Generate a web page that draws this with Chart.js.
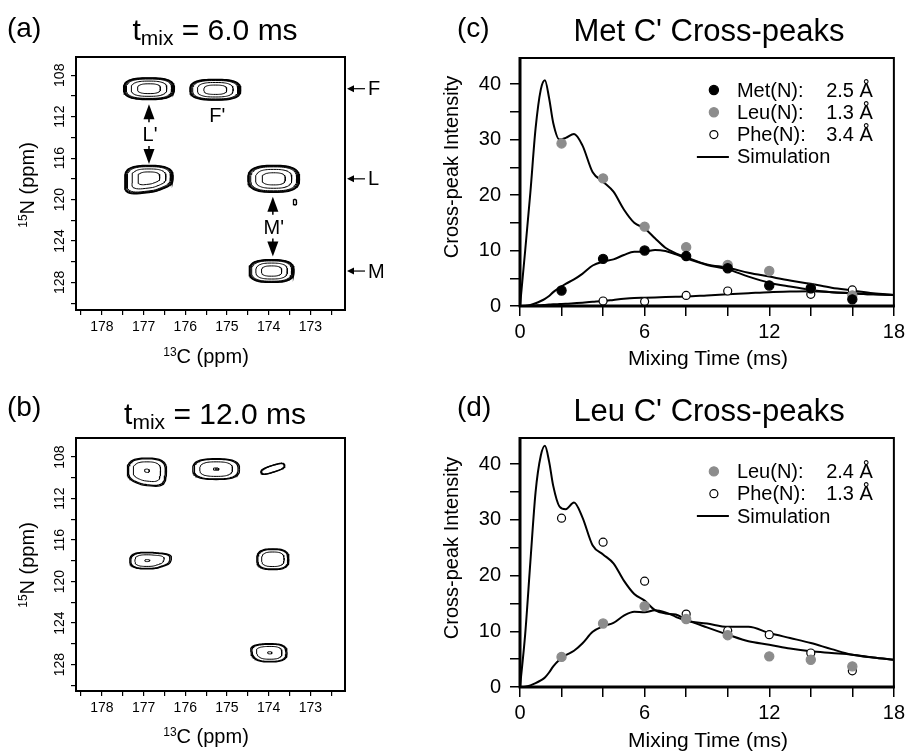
<!DOCTYPE html>
<html>
<head>
<meta charset="utf-8">
<title>Met / Leu C' cross-peaks</title>
<script src="https://cdn.jsdelivr.net/npm/chart.js@4.4.1/dist/chart.umd.min.js"></script>
<style>
  body { margin: 0; background: #fff; }
  #fig { position: relative; width: 909px; height: 751px; overflow: hidden;
         font-family: 'Liberation Sans', Arial, Helvetica, sans-serif; color: #000; }
  #fig canvas { position: absolute; }
  .t { position: absolute; line-height: 1; white-space: nowrap; }
  .c { transform: translateX(-50%); }
  .r { transform: translate(-50%, -50%) rotate(-90deg); }
  .t sup { font-size: 0.6em; vertical-align: 0.62em; line-height: 0; }
  .t sub { font-size: 0.7em; vertical-align: -0.25em; line-height: 0; }
</style>
</head>
<body>
<div id="fig">
  <canvas id="specA" width="450" height="370" style="left:0;top:0"></canvas>
  <canvas id="buildC" width="459" height="370" style="left:450px;top:0"></canvas>
  <canvas id="specB" width="450" height="381" style="left:0;top:370px"></canvas>
  <canvas id="buildD" width="459" height="381" style="left:450px;top:370px"></canvas>

  <div class="t" style="left:7px;top:14px;font-size:28px">(a)</div>
  <div class="t c" style="left:215px;top:15px;font-size:30px">t<sub>mix</sub> = 6.0 ms</div>
  <div class="t c" style="left:206px;top:346px;font-size:20px"><sup>13</sup>C (ppm)</div>
  <div class="t r" style="left:27px;top:185px;font-size:20px"><sup>15</sup>N (ppm)</div>

  <div class="t" style="left:7px;top:393px;font-size:28px">(b)</div>
  <div class="t c" style="left:215px;top:399px;font-size:30px">t<sub>mix</sub> = 12.0 ms</div>
  <div class="t c" style="left:206px;top:726px;font-size:20px"><sup>13</sup>C (ppm)</div>
  <div class="t r" style="left:27px;top:565px;font-size:20px"><sup>15</sup>N (ppm)</div>

  <div class="t" style="left:457px;top:14px;font-size:28px">(c)</div>
  <div class="t c" style="left:709px;top:15px;font-size:31px">Met C' Cross-peaks</div>
  <div class="t c" style="left:708px;top:347px;font-size:21px">Mixing Time (ms)</div>
  <div class="t r" style="left:451px;top:167px;font-size:20px">Cross-peak Intensity</div>

  <div class="t" style="left:457px;top:393px;font-size:28px">(d)</div>
  <div class="t c" style="left:709px;top:395px;font-size:31px">Leu C' Cross-peaks</div>
  <div class="t c" style="left:708px;top:729px;font-size:21px">Mixing Time (ms)</div>
  <div class="t r" style="left:451px;top:548px;font-size:20px">Cross-peak Intensity</div>
</div>

<script>
const FONT = "'Liberation Sans', Arial, Helvetica, sans-serif";
Chart.defaults.font.family = FONT;
Chart.defaults.color = '#000';
Chart.defaults.animation = false;
Chart.defaults.plugins.legend.display = false;
Chart.defaults.plugins.tooltip.enabled = false;

// ---------- 2D 13C-15N spectra ----------
// ppm window of both spectra
const cRange = [172.17, 178.62];
const nRangeA = [106.24, 130.66];
const nRangeB = [106.16, 130.55];

// tmix = 6.0 ms : peak centres, half widths (ppm), number of contour levels
const peaksA_C    = [176.87, 175.28, 176.87, 173.88, 173.93, 173.37];
const peaksA_N    = [109.3, 109.4, 117.85, 118.0, 126.9, 120.25];
const peaksA_wC   = [0.61, 0.61, 0.58, 0.62, 0.54, 0.04];
const peaksA_wN   = [1.05, 1.0, 1.15, 1.3, 1.1, 0.26];
const peaksA_nLev = [6, 6, 6, 6, 6, 1];
const peaksA_lobeDir = [0, 0, 112, 0, 0, 0];
const peaksA_lobeAmt = [0, 0, 0.45, 0, 0, 0];
const peaksA_tilt = [0, 0, 0, 0, 0, 0];
const levelsA = [1.0, 0.97, 0.93, 0.89, 0.7, 0.45];

// tmix = 12.0 ms
const peaksB_C    = [176.92, 175.26, 173.9, 176.92, 173.9, 173.97];
const peaksB_N    = [109.3, 109.16, 109.13, 117.98, 117.85, 126.87];
const peaksB_wC   = [0.47, 0.56, 0.3, 0.41, 0.385, 0.41];
const peaksB_wN   = [1.2, 1.0, 0.33, 0.8, 1.0, 0.88];
const peaksB_nLev = [4, 5, 2, 4, 3, 4];
const peaksB_lobeDir = [70, 0, 0, -10, 0, 200];
const peaksB_lobeAmt = [0.3, 0, 0, 0.45, 0, 0.15];
const peaksB_tilt = [0, 0, -18, 0, 0, 0];
const levelsB = [1.0, 0.94, 0.7, 0.12, 0.05];

// annotations of panel (a)
const arrowsA_C = [176.87, 173.9];
const arrowsA_top = [110.79, 119.73];
const arrowsA_bottom = [116.56, 125.5];
const arrowsA_text = ["L'", "M'"];
const arrowsA_textN = [113.77, 122.8];
const labelsA_text = ["F'"];
const labelsA_C = [175.23];
const labelsA_N = [112.0];
const rowsA_text = ['F', 'L', 'M'];
const rowsA_N = [109.3, 118.0, 126.9];

// ---------- cross-peak build-up curves ----------
const tMax = 18;
const yMax = 44.7;
const mixTime = [2, 4, 6, 8, 10, 12, 14, 16];
const metC_exp = [2.8, 8.5, 10.0, 9.0, 6.8, 3.7, 3.2, 1.2];
const leuC_exp = [29.3, 23.0, 14.3, 10.6, 7.4, 6.3, 3.2, 1.9];
const pheC_exp = [null, 0.9, 0.8, 1.9, 2.7, null, 2.1, 2.9];
const leuD_exp = [5.4, 11.4, 14.5, 12.2, 9.3, 5.5, 4.9, 3.7];
const pheD_exp = [30.3, 26.0, 19.0, 13.1, 10.1, 9.4, 6.1, 2.9];

const simTime = [0, 0.25, 0.5, 0.75, 1.0, 1.2, 1.4, 1.6, 1.9, 2.2, 2.6, 3.0, 3.5, 4.0, 4.5, 5.0,
                 5.5, 6.0, 6.5, 7.0, 7.5, 8, 9, 10, 11, 12, 13, 14, 15, 16, 17, 18];
const metC_sim = [0, 0.05, 0.2, 0.5, 0.9, 1.3, 1.8, 2.5, 3.3, 4.0, 4.8, 5.8, 7.3, 8.0, 8.4, 9.2,
                  9.8, 9.8, 10.1, 9.9, 9.3, 8.6, 7.4, 6.6, 5.3, 4.2, 3.5, 2.9, 2.5, 2.3, 2.1, 2.0];
const leuC_sim = [0, 10, 20.5, 32, 39, 40.7, 37.5, 33, 30, 30.3, 31.0, 29.0, 24.1, 22.4, 20.6, 17.4,
                  15.0, 14.0, 12.2, 10.5, 9.5, 8.8, 7.5, 6.9, 6.0, 5.3, 4.6, 4.0, 3.3, 2.8, 2.3, 2.0];
const pheC_sim = [0, 0, 0.05, 0.1, 0.15, 0.2, 0.25, 0.3, 0.35, 0.4, 0.5, 0.6, 0.75, 0.9, 1.1, 1.3,
                  1.45, 1.5, 1.55, 1.6, 1.65, 1.7, 1.9, 2.1, 2.3, 2.5, 2.6, 2.65, 2.5, 2.3, 2.1, 2.0];
const leuD_sim = [0, 0.05, 0.3, 0.7, 1.2, 1.7, 2.6, 3.7, 4.9, 5.7, 6.5, 7.8, 9.9, 10.9, 11.5, 12.8,
                  13.5, 13.4, 13.8, 13.4, 12.6, 11.9, 11.4, 10.8, 10.8, 9.7, 8.8, 7.9, 6.8, 5.8, 5.3, 4.9];
const pheD_sim = [0, 9.5, 22.5, 35, 41.5, 43.3, 40.5, 36.1, 32.4, 31.9, 33.1, 30.5, 25.4, 23.8, 22.2, 19.1,
                  16.7, 15.5, 13.8, 13.2, 13.0, 12.1, 10.7, 9.4, 8.2, 7.6, 6.9, 6.4, 6.1, 5.8, 5.3, 4.9];

const legendC_names = ['Met(N):', 'Leu(N):', 'Phe(N):'];
const legendC_dist = ['2.5 Å', '1.3 Å', '3.4 Å'];
const legendD_names = ['Leu(N):', 'Phe(N):'];
const legendD_dist = ['2.4 Å', '1.3 Å'];

const GRAY = '#8c8c8c';

// 13C ppm spans about 4x the pixels of 15N ppm on the spectra
const ASPECT = 4;

// one closed contour line around a peak (rounded, optionally lobed and tilted)
function contourRing(c, n, wC, wN, s, lobeDir, lobeAmt, tilt) {
  const pts = [];
  const HX = wC * ASPECT, HY = wN, p = 2.8;
  const ld = lobeDir * Math.PI / 180, ta = tilt * Math.PI / 180;
  for (let i = 0; i <= 80; i++) {
    const t = i / 80 * 2 * Math.PI;
    const ct = Math.cos(t), st = Math.sin(t);
    let X = HX * s * Math.sign(ct) * Math.pow(Math.abs(ct), 2 / p);
    let Y = HY * s * Math.sign(st) * Math.pow(Math.abs(st), 2 / p);
    const f = 1 + lobeAmt * Math.pow(Math.max(0, Math.cos(t - ld)), 6);
    X *= f; Y *= f;
    const Xr = X * Math.cos(ta) - Y * Math.sin(ta);
    const Yr = X * Math.sin(ta) + Y * Math.cos(ta);
    pts.push({ x: c - Xr / ASPECT, y: n + Yr });
  }
  return pts;
}

function contourDatasets(C, N, wC, wN, nLev, lobeDir, lobeAmt, tilt, levels) {
  const sets = [];
  C.forEach((c, i) => {
    for (let k = 0; k < nLev[i]; k++) {
      sets.push({
        data: contourRing(c, N[i], wC[i], wN[i], levels[k], lobeDir[i], lobeAmt[i], tilt[i]),
        showLine: true, borderColor: '#000', borderWidth: k < 2 ? 1.3 : 1,
        pointRadius: 0, fill: false, tension: 0
      });
    }
  });
  return sets;
}

// box around the plot area
const frame = {
  id: 'frame',
  afterDraw(chart, args, opts) {
    const { ctx, chartArea: a } = chart;
    ctx.save();
    ctx.strokeStyle = '#000';
    ctx.lineWidth = opts.width;
    ctx.strokeRect(a.left, a.top, a.right - a.left, a.bottom - a.top);
    if (opts.axisWidth) {
      ctx.lineWidth = opts.axisWidth;
      ctx.beginPath();
      ctx.moveTo(a.left, a.top - 1);
      ctx.lineTo(a.left, a.bottom);
      ctx.lineTo(a.right + 1, a.bottom);
      ctx.stroke();
    }
    ctx.restore();
  }
};

function arrowHead(ctx, x, yTip, dir, len, half) {
  ctx.beginPath();
  ctx.moveTo(x, yTip);
  ctx.lineTo(x - half, yTip - dir * len);
  ctx.lineTo(x + half, yTip - dir * len);
  ctx.closePath();
  ctx.fill();
}

// rotated 15N labels, assignment arrows and row markers
const spectrumMarks = {
  id: 'spectrumMarks',
  afterDraw(chart, args, opts) {
    const { ctx, chartArea: a, scales: { x, y } } = chart;
    ctx.save();
    ctx.fillStyle = '#000';
    ctx.strokeStyle = '#000';
    ctx.font = `14px ${FONT}`;
    ctx.textAlign = 'center';
    ctx.textBaseline = 'middle';
    y.ticks.forEach(t => {
      if (t.value % 4 !== 0) return;
      ctx.save();
      ctx.translate(a.left - 16, y.getPixelForValue(t.value));
      ctx.rotate(-Math.PI / 2);
      ctx.fillText(String(t.value), 0, 0);
      ctx.restore();
    });

    ctx.font = `20px ${FONT}`;
    ctx.lineWidth = 1.5;
    (opts.arrowC || []).forEach((c, i) => {
      const px = x.getPixelForValue(c);
      const yTop = y.getPixelForValue(opts.arrowTop[i]);
      const yBot = y.getPixelForValue(opts.arrowBottom[i]);
      arrowHead(ctx, px, yTop, -1, 15, 5.5);
      arrowHead(ctx, px, yBot, 1, 15, 5.5);
      ctx.beginPath();
      ctx.moveTo(px, yTop + 14); ctx.lineTo(px, yTop + 18);
      ctx.moveTo(px, yBot - 18); ctx.lineTo(px, yBot - 14);
      ctx.stroke();
      ctx.fillText(opts.arrowText[i], px + 1, y.getPixelForValue(opts.arrowTextN[i]));
    });
    (opts.labelText || []).forEach((s, i) => {
      ctx.fillText(s, x.getPixelForValue(opts.labelC[i]), y.getPixelForValue(opts.labelN[i]));
    });
    ctx.textAlign = 'left';
    (opts.rowText || []).forEach((s, i) => {
      const py = y.getPixelForValue(opts.rowN[i]);
      ctx.lineWidth = 1.2;
      ctx.beginPath();
      ctx.moveTo(a.right + 6, py); ctx.lineTo(a.right + 20, py);
      ctx.stroke();
      ctx.beginPath();
      ctx.moveTo(a.right + 2, py); ctx.lineTo(a.right + 9, py - 3.5); ctx.lineTo(a.right + 9, py + 3.5);
      ctx.closePath(); ctx.fill();
      ctx.fillText(s, a.right + 23, py + 1);
    });
    ctx.restore();
  }
};

// legend drawn inside the plot area
const insetLegend = {
  id: 'insetLegend',
  afterDatasetsDraw(chart, args, opts) {
    const { ctx, chartArea: a } = chart;
    let y = a.top + opts.top;
    ctx.save();
    ctx.font = `20px ${FONT}`;
    ctx.textBaseline = 'middle';
    chart.data.datasets.forEach(ds => {
      if (!ds.label) return;
      if (ds.showLine) {
        ctx.strokeStyle = ds.borderColor;
        ctx.lineWidth = ds.borderWidth;
        ctx.beginPath();
        ctx.moveTo(a.right - 197, y); ctx.lineTo(a.right - 165, y);
        ctx.stroke();
      } else {
        ctx.beginPath();
        ctx.arc(a.right - 180, y, ds.pointRadius, 0, 2 * Math.PI);
        ctx.fillStyle = ds.pointBackgroundColor;
        ctx.fill();
        ctx.lineWidth = ds.pointBorderWidth;
        ctx.strokeStyle = ds.pointBorderColor;
        ctx.stroke();
      }
      ctx.fillStyle = '#000';
      ctx.textAlign = 'left';
      ctx.fillText(ds.label, a.right - 157, y + 1);
      if (ds.dist) {
        ctx.textAlign = 'right';
        ctx.fillText(ds.dist, a.right - 21, y + 1);
      }
      y += opts.step;
    });
    ctx.restore();
  }
};

function makeSpectrum(id, nRange, datasets, marks, padTop, xHeight) {
  return new Chart(document.getElementById(id), {
    type: 'scatter',
    data: { datasets },
    options: {
      responsive: false,
      layout: { padding: { top: padTop, right: 105, bottom: 0, left: 0 } },
      scales: {
        x: {
          type: 'linear', min: cRange[0], max: cRange[1], reverse: true,
          afterFit: s => { s.height = xHeight; },
          border: { display: false },
          grid: { drawOnChartArea: false, tickLength: 5, color: '#000', lineWidth: 1.2 },
          ticks: {
            stepSize: 0.5, includeBounds: false, maxRotation: 0, autoSkip: false, padding: 4,
            font: { size: 14 },
            callback: v => Math.abs(v - Math.round(v)) < 1e-6 ? String(Math.round(v)) : ''
          }
        },
        y: {
          type: 'linear', min: nRange[0], max: nRange[1], reverse: true,
          afterFit: s => { s.width = 76; },
          border: { display: false },
          grid: { drawOnChartArea: false, tickLength: 5, color: '#000', lineWidth: 1.2 },
          ticks: { stepSize: 2, includeBounds: false, autoSkip: false, display: false }
        }
      },
      plugins: { frame: { width: 2 }, spectrumMarks: marks }
    },
    plugins: [frame, spectrumMarks]
  });
}

function pts(xs, ys) {
  return xs.map((x, i) => ({ x, y: ys[i] })).filter(p => p.y !== null);
}

function expSet(label, dist, ys, fill, border) {
  return {
    label, dist, data: pts(mixTime, ys), showLine: false,
    pointRadius: fill === '#fff' ? 4 : 4.6, pointBackgroundColor: fill,
    pointBorderColor: border, pointBorderWidth: 1.2, order: 1
  };
}

function simSet(label, ys) {
  return {
    label, data: pts(simTime, ys), showLine: true, borderColor: '#000', borderWidth: 2,
    pointRadius: 0, fill: false, cubicInterpolationMode: 'monotone', order: 2
  };
}

function makeBuildup(id, datasets, padTop, xHeight, legendTop) {
  return new Chart(document.getElementById(id), {
    type: 'scatter',
    data: { datasets },
    options: {
      responsive: false,
      layout: { padding: { top: padTop, right: 14, bottom: 0, left: 0 } },
      scales: {
        x: {
          type: 'linear', min: 0, max: tMax,
          afterFit: s => { s.height = xHeight; },
          border: { display: false },
          grid: { drawOnChartArea: false, tickLength: 10, color: '#000', lineWidth: 1.5 },
          ticks: {
            stepSize: 2, autoSkip: false, maxRotation: 0, padding: 4, font: { size: 20 },
            callback: v => v % 6 === 0 ? String(v) : ''
          }
        },
        y: {
          type: 'linear', min: 0, max: yMax,
          afterFit: s => { s.width = 70; },
          border: { display: false },
          grid: { drawOnChartArea: false, tickLength: 10, color: '#000', lineWidth: 1.5 },
          ticks: {
            stepSize: 5, includeBounds: false, autoSkip: false, padding: 9, font: { size: 20 },
            callback: v => v % 10 === 0 ? String(v) : ''
          }
        }
      },
      plugins: { frame: { width: 2, axisWidth: 3 }, insetLegend: { top: legendTop, step: 22.3 } }
    },
    plugins: [frame, insetLegend]
  });
}

makeSpectrum('specA', nRangeA,
  contourDatasets(peaksA_C, peaksA_N, peaksA_wC, peaksA_wN, peaksA_nLev,
                  peaksA_lobeDir, peaksA_lobeAmt, peaksA_tilt, levelsA),
  {
    arrowC: arrowsA_C, arrowTop: arrowsA_top, arrowBottom: arrowsA_bottom,
    arrowText: arrowsA_text, arrowTextN: arrowsA_textN,
    labelText: labelsA_text, labelC: labelsA_C, labelN: labelsA_N,
    rowText: rowsA_text, rowN: rowsA_N
  }, 57, 60);

makeSpectrum('specB', nRangeB,
  contourDatasets(peaksB_C, peaksB_N, peaksB_wC, peaksB_wN, peaksB_nLev,
                  peaksB_lobeDir, peaksB_lobeAmt, peaksB_tilt, levelsB),
  {}, 68, 60);

makeBuildup('buildC', [
  expSet(legendC_names[0], legendC_dist[0], metC_exp, '#000', '#000'),
  expSet(legendC_names[1], legendC_dist[1], leuC_exp, GRAY, GRAY),
  expSet(legendC_names[2], legendC_dist[2], pheC_exp, '#fff', '#000'),
  simSet('Simulation', leuC_sim),
  simSet(null, metC_sim),
  simSet(null, pheC_sim)
], 58, 64, 32);

makeBuildup('buildD', [
  expSet(legendD_names[0], legendD_dist[0], leuD_exp, GRAY, GRAY),
  expSet(legendD_names[1], legendD_dist[1], pheD_exp, '#fff', '#000'),
  simSet('Simulation', pheD_sim),
  simSet(null, leuD_sim)
], 68, 64, 33.4);
</script>
</body>
</html>
